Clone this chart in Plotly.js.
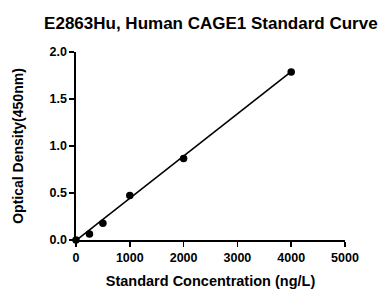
<!DOCTYPE html>
<html><head><meta charset="utf-8">
<script src="https://cdn.plot.ly/plotly-3.0.1.min.js"></script>
<style>html,body{margin:0;padding:0;background:#fff}#chart{width:382px;height:289px}</style>
</head><body><div id="chart"></div>
<script>
var concentration = [0, 250, 500, 1000, 2000, 4000];
var opticalDensity = [0.0, 0.065, 0.178, 0.474, 0.867, 1.787];
var fitConcentration = [0, 4000];
var fitDensity = [-0.005, 1.79];
var xTicks = [0, 1000, 2000, 3000, 4000, 5000];
var yTicks = [0.0, 0.5, 1.0, 1.5, 2.0];
var yTickLabels = ['0.0', '0.5', '1.0', '1.5', '2.0'];

var font = 'Arial, "Liberation Sans", sans-serif';
var traces = [
  {x: fitConcentration, y: fitDensity, mode: 'lines', line: {color: '#000', width: 1.6}, cliponaxis: false, hoverinfo: 'skip'},
  {x: concentration, y: opticalDensity, mode: 'markers', marker: {color: '#000', size: 7.5}, cliponaxis: false}
];
var layout = {
  width: 382, height: 289, showlegend: false,
  paper_bgcolor: '#fff', plot_bgcolor: '#fff',
  margin: {l: 76, r: 37, t: 52, b: 49, autoexpand: false},
  title: {text: '<b>E2863Hu, Human CAGE1 Standard Curve</b>', font: {family: font, size: 17, color: '#000'}, x: 0.552, xanchor: 'center', y: 0.92, yanchor: 'middle'},
  xaxis: {
    range: [0, 5000], tickvals: xTicks, ticktext: xTicks.map(String),
    showgrid: false, zeroline: false, showline: true, linecolor: '#000', linewidth: 1.6,
    ticks: 'outside', ticklen: 5, tickwidth: 1.6, tickcolor: '#000',
    tickfont: {family: font, size: 12.5, color: '#000', weight: 'bold'},
    title: {text: '<b>Standard Concentration (ng/L)</b>', font: {family: font, size: 14.5, color: '#000'}, standoff: 13}
  },
  yaxis: {
    range: [0, 2], tickvals: yTicks, ticktext: yTickLabels,
    showgrid: false, zeroline: false, showline: true, linecolor: '#000', linewidth: 1.6,
    ticks: 'outside', ticklen: 5, tickwidth: 1.6, tickcolor: '#000',
    tickfont: {family: font, size: 12.5, color: '#000', weight: 'bold'},
    title: {text: '<b>Optical Density(450nm)</b>', font: {family: font, size: 14, color: '#000'}, standoff: 22}
  }
};
Plotly.newPlot('chart', traces, layout, {displayModeBar: false, staticPlot: true});
</script></body></html>
